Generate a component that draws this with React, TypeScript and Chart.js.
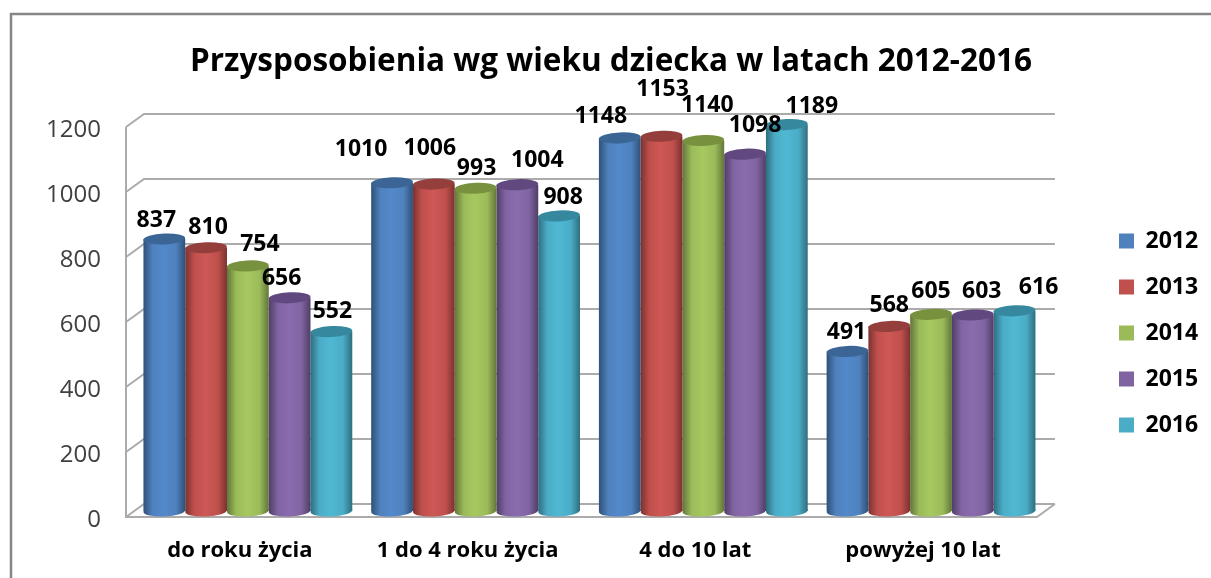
import React, { useEffect, useRef } from "react";
import { Chart, registerables } from "chart.js";

Chart.register(...registerables);

const categories = ["do roku życia", "1 do 4 roku życia", "4 do 10 lat", "powyżej 10 lat"];
const years = ["2012", "2013", "2014", "2015", "2016"];
const values2012 = [837, 1010, 1148, 491];
const values2013 = [810, 1006, 1153, 568];
const values2014 = [754, 993, 1140, 605];
const values2015 = [656, 1004, 1098, 603];
const values2016 = [552, 908, 1189, 616];
const allValues = [values2012, values2013, values2014, values2015, values2016];

const baseColors = ["#4F81BD", "#C0504D", "#9BBB59", "#8064A2", "#4BACC6"];
const lightColors = ["#5289CB", "#CE5855", "#A6C860", "#8A6CAE", "#50B8D3"];
const edgeColors = ["#2F5078", "#7A3230", "#62763A", "#4F3E66", "#2E6E80"];
const topColors = ["#3B6595", "#943F3C", "#78913F", "#61497F", "#36889E"];

// hand placement of each value label relative to the top of its cylinder: [dx, dy]
const labelNudges = [
  [[-8, -19], [-31, -33], [-19, -21], [-1, -19]],
  [[2, -20], [-4, -36], [1, -47], [0, -21]],
  [[12, -21], [1, -20], [4, -35], [0, -23]],
  [[-8, -19], [20, -24], [10, -29], [9, -24]],
  [[1, -20], [4, -18], [25, -18], [24, -23]],
];

const FONT = "'Open Sans'";
const DEPTH_X = 18;
const DEPTH_Y = 13;
const BAR_DX = 8;
const BAR_DY = -6;
const TOP_RY = 5.5;
const TILT = -0.045;

const cylinderPlugin = {
  id: "cylinder",
  afterLayout(chart: any) {
    const legend = chart.legend;
    legend.left = 1096;
    legend.right = 1211;
    legend.top = 101;
    legend.bottom = 565;
    const title = chart.titleBlock;
    title.left = 0;
    title.right = 1222;
  },
  beforeDraw(chart: any) {
    const { ctx } = chart;
    ctx.save();
    ctx.fillStyle = "#ffffff";
    ctx.fillRect(0, 0, chart.width, chart.height);
    ctx.strokeStyle = "#868686";
    ctx.lineWidth = 2.5;
    ctx.beginPath();
    ctx.moveTo(11, 578);
    ctx.lineTo(11, 14);
    ctx.lineTo(1211, 14);
    ctx.stroke();
    ctx.restore();
  },
  beforeDatasetsDraw(chart: any) {
    const { ctx, chartArea, scales } = chart;
    const { left, right, bottom } = chartArea;
    ctx.save();
    ctx.strokeStyle = "#ABABAB";
    ctx.lineWidth = 2;
    scales.y.ticks.forEach((tick: any) => {
      const y = scales.y.getPixelForValue(tick.value);
      ctx.beginPath();
      ctx.moveTo(left, y);
      ctx.lineTo(left + DEPTH_X, y - DEPTH_Y);
      ctx.lineTo(right + DEPTH_X, y - DEPTH_Y);
      ctx.stroke();
    });
    ctx.beginPath();
    ctx.moveTo(left, scales.y.top);
    ctx.lineTo(left, bottom);
    ctx.lineTo(right, bottom);
    ctx.lineTo(right + DEPTH_X, bottom - DEPTH_Y);
    ctx.stroke();
    ctx.restore();
  },
  beforeDatasetDraw(chart: any, args: any) {
    const { ctx } = chart;
    const i = args.index;
    ctx.save();
    ctx.translate(BAR_DX, BAR_DY);
    args.meta.data.forEach((el: any) => {
      const half = el.width / 2;
      const g = ctx.createLinearGradient(el.x - half, 0, el.x + half, 0);
      g.addColorStop(0, edgeColors[i]);
      g.addColorStop(0.22, baseColors[i]);
      g.addColorStop(0.48, lightColors[i]);
      g.addColorStop(0.78, baseColors[i]);
      g.addColorStop(1, edgeColors[i]);
      el.options = { ...el.options, backgroundColor: g };
      ctx.fillStyle = g;
      ctx.beginPath();
      ctx.ellipse(el.x, el.base, half, TOP_RY, TILT, 0, Math.PI * 2);
      ctx.fill();
    });
  },
  afterDatasetDraw(chart: any, args: any) {
    const { ctx } = chart;
    const i = args.index;
    args.meta.data.forEach((el: any) => {
      ctx.fillStyle = topColors[i];
      ctx.beginPath();
      ctx.ellipse(el.x, el.y, el.width / 2, TOP_RY, TILT, 0, Math.PI * 2);
      ctx.fill();
    });
    ctx.restore();
  },
  afterDatasetsDraw(chart: any) {
    const { ctx } = chart;
    ctx.save();
    ctx.fillStyle = "#000000";
    ctx.font = `bold 23px ${FONT}`;
    ctx.textAlign = "center";
    ctx.textBaseline = "middle";
    chart.data.datasets.forEach((ds: any, i: number) => {
      chart.getDatasetMeta(i).data.forEach((el: any, j: number) => {
        const [dx, dy] = labelNudges[i][j];
        ctx.fillText(String(ds.data[j]), el.x + BAR_DX + dx, el.y + BAR_DY + dy);
      });
    });
    ctx.restore();
  },
};

export default function App() {
  const ref = useRef<HTMLCanvasElement>(null);
  useEffect(() => {
    const chart = new Chart(ref.current as HTMLCanvasElement, {
      type: "bar",
      data: {
        labels: categories,
        datasets: years.map((y, i) => ({
          label: y,
          data: allValues[i],
          backgroundColor: baseColors[i],
          borderColor: baseColors[i],
          borderWidth: 0,
          barPercentage: 1,
          categoryPercentage: 0.917,
          clip: false as any,
        })),
      },
      plugins: [cylinderPlugin],
      options: {
        responsive: false,
        animation: false,
        layout: { padding: { left: 0, right: 62, top: 0, bottom: 0 } },
        plugins: {
          tooltip: { enabled: false },
          title: {
            display: true,
            text: "Przysposobienia wg wieku dziecka w latach 2012-2016",
            color: "#000000",
            font: { family: FONT, size: 31.5, weight: "bold", lineHeight: 1.2 },
            padding: { top: 43, bottom: 46.2 },
          },
          legend: {
            position: "right",
            labels: {
              boxWidth: 15,
              boxHeight: 15,
              padding: 23,
              color: "#000000",
              font: { family: FONT, size: 23, weight: "bold" },
            },
          },
        },
        scales: {
          x: {
            grid: { display: false },
            border: { display: false },
            ticks: {
              color: "#000000",
              padding: 13,
              maxRotation: 0,
              font: { family: FONT, size: 22, weight: "bold" },
            },
            afterFit(s: any) {
              s.height = 61;
            },
          },
          y: {
            min: 0,
            max: 1200,
            grid: { display: false },
            border: { display: false },
            ticks: {
              stepSize: 200,
              color: "#404040",
              padding: 17,
              labelOffset: 3,
              font: { family: FONT, size: 24 },
              callback: (v: any) => String(v),
            },
            afterFit(s: any) {
              s.width = 126;
            },
          },
        },
      } as any,
    });
    return () => chart.destroy();
  }, []);
  return (
    <div style={{ position: "absolute", left: 0, top: 0, width: 1211, height: 578 }}>
      <canvas ref={ref} width={1211} height={578} style={{ display: "block", filter: "blur(0.4px)" }} />
    </div>
  );
}
